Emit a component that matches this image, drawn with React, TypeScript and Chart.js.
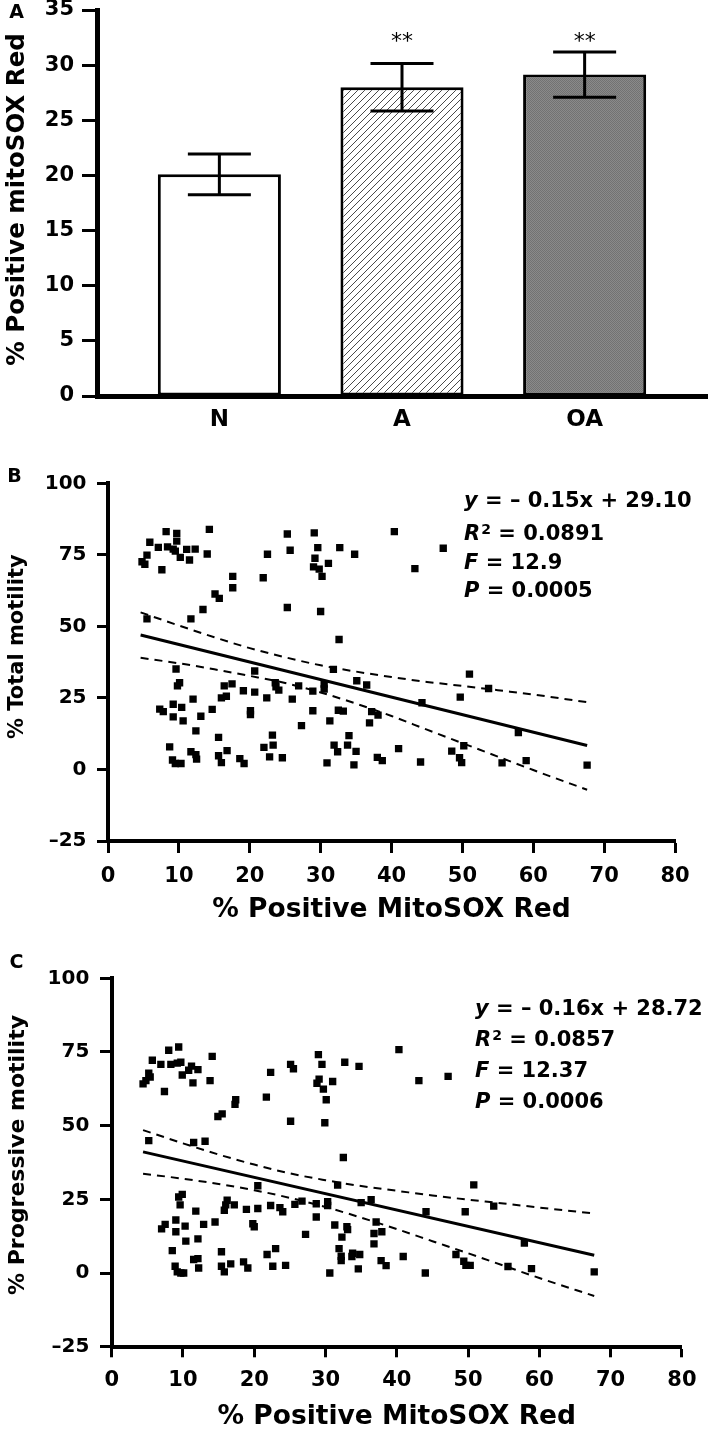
import React, { useEffect, useRef } from 'react';
import { Chart, registerables } from 'chart.js';

Chart.register(...registerables);

const FAMILY = 'DejaVu Sans';

// ---------------- Panel A : bar chart ----------------
const barCategories = ['N', 'A', 'OA'];
const barMeans = [20.1, 28.0, 29.15];
const barErrors = [1.85, 2.15, 2.05];
const barMarks = ['', '**', '**'];
const barMarkLevel = 32.1;
const barYTitle = '% Positive mitoSOX Red';

// ---------------- Panel B : total motility ----------------
const totalX = [
  8.2, 9.7, 14.3, 5.9, 7.1, 9.7, 8.4, 9.2, 9.5, 11.1, 12.3, 10.2, 11.5, 14.0, 5.5, 4.8, 5.2, 7.6, 22.5, 21.9, 17.6, 17.6, 15.1, 15.7, 13.4, 11.7, 5.5,
  9.6, 20.7, 10.1, 9.8, 16.4, 17.5, 19.1, 20.7, 23.6, 23.7, 24.1, 22.4, 12.0, 16.0, 16.7, 9.2, 7.3, 7.8, 10.4, 9.2, 10.6, 13.1, 14.7, 20.1, 20.1, 12.4,
  15.6, 23.2, 22.0, 23.3, 8.7, 11.7, 12.4, 12.5, 9.1, 9.5, 10.3, 15.6, 16.8, 16.0, 18.6, 19.2, 22.8, 24.6,
  25.3, 29.1, 40.4, 25.7, 29.6, 32.7, 34.8, 47.3, 29.2, 31.1, 29.0, 29.8, 30.2, 43.3, 25.3, 30.0, 32.6,
  31.8, 35.1, 36.5, 44.3, 30.5, 30.5, 26.9, 28.9, 26.0, 28.9, 32.5, 33.2, 37.2, 38.1, 31.3, 36.9, 27.3, 34.0, 31.9, 33.8, 32.4, 35.0, 41.0, 30.9, 34.7,
  38.0, 38.7, 44.1,
  51.0, 53.7, 49.7, 57.9, 50.2, 48.5, 49.6, 49.9, 55.6, 59.0, 67.6,
];
const totalY = [
  83.1, 82.5, 83.9, 79.4, 77.6, 79.8, 77.8, 77.0, 76.3, 76.9, 77.0, 74.1, 73.2, 75.3, 74.9, 72.6, 71.7, 69.8, 75.2, 67.0, 67.5, 63.5, 61.3, 59.8, 55.9, 52.6, 52.6,
  35.1, 34.4, 30.3, 29.2, 29.2, 29.9, 27.5, 27.0, 30.3, 28.9, 27.7, 25.0, 24.6, 25.0, 25.6, 22.8, 21.1, 20.2, 21.7, 18.4, 17.0, 18.6, 21.0, 20.5, 19.2, 13.5,
  11.2, 12.0, 7.7, 8.5, 7.9, 6.2, 5.2, 3.6, 3.3, 2.1, 2.1, 4.8, 6.6, 2.4, 3.8, 2.1, 4.4, 4.1,
  82.3, 82.7, 83.1, 76.6, 77.5, 77.5, 75.2, 77.3, 73.8, 72.0, 70.8, 70.0, 67.5, 70.2, 56.6, 55.2, 45.4,
  35.0, 31.0, 29.5, 23.3, 29.8, 28.1, 29.2, 27.4, 24.6, 20.5, 20.7, 20.4, 20.2, 19.0, 17.0, 16.3, 15.3, 11.8, 8.5, 8.5, 6.2, 6.3, 7.3, 2.3, 1.6,
  4.2, 3.1, 2.6,
  33.3, 28.3, 25.3, 12.9, 8.3, 6.4, 4.1, 2.4, 2.3, 3.1, 1.5,
];
const totalFitX = [4.6, 67.6];
const totalFitY = [47.0, 8.4];
const totalBandX = [4.6, 10, 15, 20, 25, 30, 35, 40, 45, 50, 55, 60, 67.6];
const totalBandUpper = [54.9, 50.3, 46.2, 42.4, 39.2, 36.4, 34.2, 32.3, 30.6, 29.2, 27.7, 26.2, 23.5];
const totalBandLower = [39.0, 37.1, 35.0, 32.7, 30.2, 26.9, 23.0, 18.7, 13.9, 9.2, 4.5, -0.2, -7.1];
const totalYTitle = '% Total motility';
const totalStats = [
  ['y', '', ' = \u2013 0.15x + 29.10'],
  ['R', '2', ' = 0.0891'],
  ['F', '', ' = 12.9'],
  ['P', '', ' = 0.0005'],
];

// ---------------- Panel C : progressive motility ----------------
const progX = [
  8.0, 9.4, 14.1, 5.7, 6.9, 8.3, 9.2, 9.7, 11.2, 10.8, 12.1, 9.9, 5.2, 5.4, 4.8, 4.4, 11.4, 13.8, 7.4, 22.3, 21.7, 17.4, 17.3, 15.5, 14.9, 5.2, 11.5, 13.1,
  20.5, 9.9, 9.4, 9.6, 11.8, 16.2, 16.0, 15.8, 17.2, 18.9, 20.5, 22.3, 23.6, 24.0, 9.0, 7.5, 7.0, 10.3, 9.0, 12.9, 14.5, 19.8, 20.0, 10.4, 12.1, 8.5,
  15.4, 23.0, 21.8, 11.5, 12.1, 12.2, 8.9, 9.2, 9.7, 10.1, 15.4, 15.8, 16.7, 18.5, 19.1, 22.6, 24.4,
  25.1, 25.5, 29.0, 29.5, 32.7, 34.7, 40.3, 29.1, 28.8, 31.0, 29.7, 30.1, 43.1, 25.1, 29.9, 32.5,
  31.7, 35.0, 36.4, 44.1, 25.7, 26.7, 28.7, 30.3, 30.3, 28.7, 27.2, 31.3, 33.0, 33.1, 32.3, 37.1, 37.9, 36.8, 36.8, 31.9, 32.2, 32.2, 33.8, 34.8, 33.7,
  30.6, 34.6, 37.8, 38.5, 40.9, 44.0,
  47.2, 50.8, 53.6, 49.6, 57.9, 48.3, 49.4, 49.7, 50.3, 55.6, 58.9, 67.7,
];
const progY = [
  75.6, 76.7, 73.5, 72.2, 70.8, 70.8, 71.2, 71.5, 70.2, 68.8, 69.0, 67.2, 67.8, 66.5, 65.3, 64.2, 64.5, 65.3, 61.6, 68.1, 59.7, 58.8, 57.2, 54.0, 53.1, 44.9, 44.3, 44.7,
  29.6, 26.7, 25.8, 23.1, 21.0, 24.7, 23.1, 21.3, 23.1, 21.6, 21.9, 22.9, 22.2, 20.8, 18.0, 16.5, 15.0, 15.9, 14.0, 16.5, 17.3, 16.7, 15.7, 10.8, 11.6, 7.6,
  7.2, 8.3, 6.3, 4.6, 4.9, 1.7, 2.3, 0.4, 0.0, 0.0, 2.3, 0.4, 3.1, 3.8, 1.7, 2.3, 2.6,
  70.8, 69.3, 74.1, 70.8, 71.5, 70.1, 75.8, 65.8, 64.4, 65.0, 62.4, 58.8, 65.3, 51.5, 51.0, 39.2,
  29.8, 23.9, 24.9, 20.8, 23.3, 24.4, 23.5, 24.2, 22.9, 19.0, 13.1, 16.3, 15.7, 14.7, 12.2, 17.3, 14.0, 13.4, 9.9, 8.3, 5.7, 4.2, 6.7, 6.3, 5.6,
  0.0, 1.4, 4.2, 2.5, 5.6, 0.0,
  66.7, 29.9, 22.7, 20.8, 10.2, 6.3, 4.0, 2.6, 2.6, 2.2, 1.5, 0.4,
];
const progFitX = [4.4, 67.7];
const progFitY = [41.1, 6.0];
const progBandX = [4.4, 10, 15, 20, 25, 30, 35, 40, 45, 50, 55, 60, 67.7];
const progBandUpper = [48.5, 44.0, 40.2, 36.8, 33.8, 31.5, 29.5, 27.9, 26.3, 24.9, 23.6, 22.2, 20.2];
const progBandLower = [33.7, 32.0, 30.2, 28.1, 25.5, 22.4, 18.8, 14.9, 10.8, 6.7, 2.5, -1.7, -7.8];
const progYTitle = '% Progressive motility';
const progStats = [
  ['y', '', ' = \u2013 0.16x + 28.72'],
  ['R', '2', ' = 0.0857'],
  ['F', '', ' = 12.37'],
  ['P', '', ' = 0.0006'],
];

const motilityXTitle = '% Positive MitoSOX Red';

// ---------------- helpers ----------------
function pairs(xs: number[], ys: number[]) {
  return xs.map((x, i) => ({ x, y: ys[i] }));
}

function makeHatch(): any {
  const c = document.createElement('canvas');
  c.width = 7;
  c.height = 7;
  const g = c.getContext('2d');
  if (!g) return '#ffffff';
  g.fillStyle = '#ffffff';
  g.fillRect(0, 0, 7, 7);
  g.strokeStyle = '#4a4a4a';
  g.lineWidth = 1;
  g.beginPath();
  g.moveTo(-1, 8);
  g.lineTo(8, -1);
  g.moveTo(-1, 1);
  g.lineTo(1, -1);
  g.moveTo(6, 8);
  g.lineTo(8, 6);
  g.stroke();
  return g.createPattern(c, 'repeat') || '#ffffff';
}

function makeGray(): any {
  const c = document.createElement('canvas');
  c.width = 2;
  c.height = 2;
  const g = c.getContext('2d');
  if (!g) return '#808080';
  g.fillStyle = '#8a8a8a';
  g.fillRect(0, 0, 2, 2);
  g.fillStyle = '#727272';
  g.fillRect(0, 0, 1, 1);
  g.fillRect(1, 1, 1, 1);
  return g.createPattern(c, 'repeat') || '#808080';
}

type Overlay = {
  letter: string;
  letterX: number;
  letterY: number;
  title: string;
  titleX: number;
  titleY: number;
  titleSize: number;
  stats?: string[][];
  statsX?: number;
  statsY?: number[];
};

function overlayPlugin(o: Overlay) {
  return {
    id: 'overlayText',
    afterDraw(chart: any) {
      const ctx = chart.ctx;
      ctx.save();
      ctx.fillStyle = '#000';
      ctx.textBaseline = 'middle';
      ctx.textAlign = 'center';
      ctx.font = `bold 19px ${FAMILY}`;
      ctx.fillText(o.letter, o.letterX, o.letterY);
      ctx.save();
      ctx.translate(o.titleX, o.titleY);
      ctx.rotate(-Math.PI / 2);
      ctx.font = `bold ${o.titleSize}px ${FAMILY}`;
      ctx.fillText(o.title, 0, 0);
      ctx.restore();
      if (o.stats && o.statsY) {
        ctx.textAlign = 'left';
        o.stats.forEach(([v, sup, rest], i) => {
          let x = o.statsX as number;
          const y = (o.statsY as number[])[i];
          ctx.font = `italic bold 21px ${FAMILY}`;
          ctx.fillText(v, x, y);
          x += ctx.measureText(v).width;
          if (sup) {
            ctx.font = `bold 14px ${FAMILY}`;
            ctx.fillText(sup, x + 1, y - 4.5);
            x += ctx.measureText(sup).width + 1;
          }
          ctx.font = `bold 21px ${FAMILY}`;
          ctx.fillText(rest, x, y);
        });
      }
      ctx.restore();
    },
  };
}

const errorBarPlugin = {
  id: 'errorBars',
  afterDatasetsDraw(chart: any) {
    const { ctx } = chart;
    const xs = chart.scales.x;
    const ys = chart.scales.y;
    ctx.save();
    ctx.strokeStyle = '#000';
    ctx.fillStyle = '#000';
    ctx.lineWidth = 3;
    barCategories.forEach((_, i) => {
      const px = xs.getPixelForValue(i);
      const top = ys.getPixelForValue(barMeans[i] + barErrors[i]);
      const bot = ys.getPixelForValue(barMeans[i] - barErrors[i]);
      ctx.beginPath();
      ctx.moveTo(px, top);
      ctx.lineTo(px, bot);
      ctx.moveTo(px - 31.5, top);
      ctx.lineTo(px + 31.5, top);
      ctx.moveTo(px - 31.5, bot);
      ctx.lineTo(px + 31.5, bot);
      ctx.stroke();
      if (barMarks[i]) {
        ctx.font = `22px ${FAMILY}`;
        ctx.textAlign = 'center';
        ctx.textBaseline = 'middle';
        ctx.fillText(barMarks[i], px, ys.getPixelForValue(barMarkLevel));
      }
    });
    ctx.restore();
  },
};

type ScatterGeom = {
  top: number;
  right: number;
  yWidth: number;
  xHeight: number;
  yTick: number;
  xTick: number;
  yPad: number;
  xPad: number;
  titlePad: number;
};

function scatterConfig(
  xs: number[], ys: number[], fitX: number[], fitY: number[],
  bandX: number[], upper: number[], lower: number[], g: ScatterGeom, overlay: Overlay,
): any {
  const yTickFont = { family: FAMILY, size: 20, weight: 'bold', lineHeight: 1 };
  const xTickFont = { family: FAMILY, size: 21, weight: 'bold', lineHeight: 1 };
  return {
    type: 'scatter',
    data: {
      datasets: [
        {
          data: pairs(xs, ys),
          pointStyle: 'rect',
          pointRadius: 5.2,
          pointBackgroundColor: '#000',
          backgroundColor: '#000',
          pointBorderWidth: 0,
          borderWidth: 0,
        },
        {
          data: pairs(fitX, fitY),
          showLine: true,
          pointRadius: 0,
          borderColor: '#000',
          borderWidth: 3,
        },
        {
          data: pairs(bandX, upper),
          showLine: true,
          pointRadius: 0,
          borderColor: '#000',
          borderWidth: 2,
          borderDash: [8, 6],
          cubicInterpolationMode: 'monotone',
        },
        {
          data: pairs(bandX, lower),
          showLine: true,
          pointRadius: 0,
          borderColor: '#000',
          borderWidth: 2,
          borderDash: [8, 6],
          cubicInterpolationMode: 'monotone',
        },
      ],
    },
    options: {
      responsive: false,
      animation: false,
      devicePixelRatio: 1,
      events: [],
      layout: { padding: { left: 0, top: g.top, right: g.right, bottom: 0 } },
      plugins: { legend: { display: false }, tooltip: { enabled: false } },
      scales: {
        x: {
          type: 'linear',
          min: 0,
          max: 80,
          ticks: { stepSize: 10, color: '#000', font: xTickFont, padding: g.xPad, maxRotation: 0, autoSkip: false },
          grid: { drawOnChartArea: false, drawTicks: true, tickLength: g.xTick, tickWidth: 3, tickColor: '#000' },
          border: { display: true, color: '#000', width: 4 },
          title: {
            display: true,
            text: motilityXTitle,
            color: '#000',
            font: { family: FAMILY, size: 26.5, weight: 'bold', lineHeight: 1 },
            padding: { top: 0, bottom: g.titlePad },
          },
          afterFit: (s: any) => {
            s.height = g.xHeight;
          },
        },
        y: {
          type: 'linear',
          min: -25,
          max: 100,
          ticks: {
            stepSize: 25,
            color: '#000',
            font: yTickFont,
            padding: g.yPad,
            callback: (v: number) => (v < 0 ? '\u2013' + Math.abs(v) : String(v)),
          },
          grid: { drawOnChartArea: false, drawTicks: true, tickLength: g.yTick, tickWidth: 3, tickColor: '#000' },
          border: { display: true, color: '#000', width: 4 },
          afterFit: (s: any) => {
            s.width = g.yWidth;
          },
        },
      },
    },
    plugins: [overlayPlugin(overlay)],
  };
}

export default function App() {
  const refA = useRef<HTMLCanvasElement | null>(null);
  const refB = useRef<HTMLCanvasElement | null>(null);
  const refC = useRef<HTMLCanvasElement | null>(null);

  useEffect(() => {
    document.documentElement.style.overflow = 'hidden';
    const charts: any[] = [];
    const hatch = makeHatch();
    const gray = makeGray();

    if (refA.current) {
      charts.push(
        new Chart(refA.current as any, {
          type: 'bar',
          data: {
            datasets: [
              {
                data: barCategories.map((_, i) => ({ x: i, y: barMeans[i] })),
                backgroundColor: ['#ffffff', hatch, gray],
                borderColor: '#000',
                borderWidth: 3,
                borderSkipped: false,
                barPercentage: 0.674,
                categoryPercentage: 1,
              },
            ],
          },
          options: {
            responsive: false,
            animation: false,
            devicePixelRatio: 1,
            events: [],
            layout: { padding: { left: 0, right: 2, top: 10, bottom: 0 } },
            plugins: { legend: { display: false }, tooltip: { enabled: false } },
            scales: {
              x: {
                type: 'linear',
                min: -0.67,
                max: 2.67,
                offset: false,
                afterBuildTicks: (s: any) => {
                  s.ticks = barCategories.map((_, i) => ({ value: i }));
                },
                ticks: {
                  callback: (v: number) => barCategories[v] ?? '',
                  color: '#000',
                  font: { family: FAMILY, size: 23, weight: 'bold', lineHeight: 1 },
                  padding: 12.3,
                  maxRotation: 0,
                  autoSkip: false,
                },
                grid: { display: false, drawTicks: false },
                border: { display: true, color: '#000', width: 5 },
                afterFit: (s: any) => {
                  s.height = 64;
                },
              },
              y: {
                type: 'linear',
                min: 0,
                max: 35,
                ticks: {
                  stepSize: 5,
                  color: '#000',
                  font: { family: FAMILY, size: 21, weight: 'bold', lineHeight: 0.1 },
                  padding: 8,
                },
                grid: { drawOnChartArea: false, drawTicks: true, tickLength: 15, tickWidth: 3, tickColor: '#000' },
                border: { display: true, color: '#000', width: 5 },
                afterFit: (s: any) => {
                  s.width = 97;
                },
              },
            },
          },
          plugins: [
            errorBarPlugin,
            overlayPlugin({
              letter: 'A',
              letterX: 16.7,
              letterY: 13.1,
              title: barYTitle,
              titleX: 17.5,
              titleY: 199.5,
              titleSize: 24.5,
            }),
          ],
        } as any),
      );
    }

    if (refB.current) {
      charts.push(
        new Chart(
          refB.current as any,
          scatterConfig(
            totalX, totalY, totalFitX, totalFitY, totalBandX, totalBandUpper, totalBandLower,
            { top: 23.3, right: 34, yWidth: 108, xHeight: 109, yTick: 11, xTick: 12, yPad: 10.5, xPad: 12.9, titlePad: 26.3 },
            {
              letter: 'B',
              letterX: 14.5,
              letterY: 17.4,
              title: totalYTitle,
              titleX: 17.2,
              titleY: 186.7,
              titleSize: 21,
              stats: totalStats,
              statsX: 464,
              statsY: [41.4, 74.7, 103.1, 131.4],
            },
          ),
        ),
      );
    }

    if (refC.current) {
      charts.push(
        new Chart(
          refC.current as any,
          scatterConfig(
            progX, progY, progFitX, progFitY, progBandX, progBandUpper, progBandLower,
            { top: 28.3, right: 17.3, yWidth: 111.7, xHeight: 83.3, yTick: 11.7, xTick: 10.6, yPad: 10.7, xPad: 12.5, titlePad: 0 },
            {
              letter: 'C',
              letterX: 16.5,
              letterY: 13.1,
              title: progYTitle,
              titleX: 18,
              titleY: 205,
              titleSize: 22,
              stats: progStats,
              statsX: 475,
              statsY: [59.4, 90.4, 121.9, 152.9],
            },
          ),
        ),
      );
    }

    return () => {
      charts.forEach((c) => c.destroy());
    };
  }, []);

  return (
    <div style={{ position: 'absolute', left: 0, top: 0, width: 709, height: 1430, background: '#ffffff', overflow: 'hidden' }}>
      <canvas ref={refA} width={709} height={460} style={{ position: 'absolute', left: 0, top: 0, width: 709, height: 460 }} />
      <canvas ref={refB} width={709} height={490} style={{ position: 'absolute', left: 0, top: 460, width: 709, height: 490 }} />
      <canvas ref={refC} width={709} height={480} style={{ position: 'absolute', left: 0, top: 950, width: 709, height: 480 }} />
    </div>
  );
}
